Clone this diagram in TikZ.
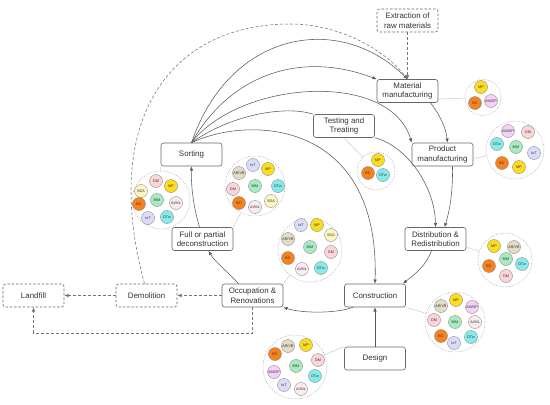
\documentclass[tikz,border=0pt]{standalone}
\usepackage{fontspec}
\setmainfont{Liberation Sans}
\usetikzlibrary{arrows.meta}
\definecolor{cMP}{HTML}{FBDC1E}
\definecolor{cBC}{HTML}{F5821F}
\definecolor{cAMDP}{HTML}{F3D2F5}
\definecolor{cDM}{HTML}{FAD4D6}
\definecolor{cDTw}{HTML}{85EBEA}
\definecolor{cBIM}{HTML}{A7EBC0}
\definecolor{cIoT}{HTML}{DCDCFA}
\definecolor{cAIML}{HTML}{FCEBEE}
\definecolor{cSDA}{HTML}{FAF5C3}
\definecolor{cARVR}{HTML}{E2DCC5}
\newcommand{\bb}[5]{\node[bub,fill=#4] (#1) at (#2,#3) {#5};}
\begin{document}
\begin{tikzpicture}[x=1pt,y=-1pt,
  box/.style={draw=black!60, rounded corners=2.5pt, fill=white, minimum width=61pt, minimum height=23pt, align=center, inner sep=1pt, font=\fontsize{7.9}{9.4}\selectfont, text=black!80, line width=0.6pt},
  dbox/.style={box, dash pattern=on 2.5pt off 1.8pt},
  arr/.style={draw=black!65, line width=0.55pt, -{Latex[length=4.2pt,width=3.4pt]}},
  plain/.style={draw=black!65, line width=0.55pt},
  darr/.style={arr, draw=black!55, dash pattern=on 3pt off 2pt},
  clus/.style={circle, draw=black!30, dash pattern=on 1.2pt off 1.2pt, line width=0.5pt, inner sep=0},
  link/.style={draw=black!22, line width=0.45pt},
  bub/.style={circle, draw=black!45, line width=0.4pt, minimum size=13pt, inner sep=0, font=\fontsize{3.7}{4}\selectfont, text=black!80}
]
\useasboundingbox (0,0) rectangle (550,405);

% boxes
\node[dbox] (ext) at (407.5,20.5) {Extraction of\\raw materials};
\node[box] (mat) at (407.5,91) {Material\\manufacturing};
\node[box] (test) at (344,126) {Testing and\\Treating};
\node[box] (prod) at (442.5,154.5) {Product\\manufacturing};
\node[box] (sort) at (191.5,154.5) {Sorting};
\node[box] (dist) at (435.5,239) {Distribution \&\\Redistribution};
\node[box] (full) at (202.5,239) {Full or partial\\deconstruction};
\node[box] (cons) at (375,295.5) {Construction};
\node[box] (occ) at (252.5,295.5) {Occupation \&\\Renovations};
\node[dbox] (dem) at (146.5,295.5) {Demolition};
\node[dbox] (land) at (33.5,295.5) {Landfill};
\node[box] (des) at (375,358.5) {Design};

% clusters
\node[clus, minimum size=36pt] (cA) at (483,97.5) {};
\node[clus, minimum size=58pt] (cB) at (515,150) {};
\node[clus, minimum size=54pt] (cC) at (505,260) {};
\node[clus, minimum size=38pt] (cD) at (376,171) {};
\node[clus, minimum size=58pt] (cE) at (161,200) {};
\node[clus, minimum size=60pt] (cF) at (255,186) {};
\node[clus, minimum size=64pt] (cG) at (310,250) {};
\node[clus, minimum size=60pt] (cH) at (455,322) {};
\node[clus, minimum size=64pt] (cI) at (295,367) {};

% cluster links
\draw[link] ([yshift=-8pt]mat.east) -- (cA);
\draw[link] ([yshift=-4pt]prod.east) -- (cB);
\draw[link] ([yshift=-8pt]dist.east) -- (cC);
\draw[link] (test.south) -- (cD);
\draw[link] (sort.south west) -- (cE);
\draw[link] (cF) -- (full.north east);
\draw[link] (occ.north east) -- (cG);
\draw[link] (cons.south east) -- (cH);
\draw[link] (des.north west) -- (cI);

% bubbles A
\bb{a1}{481}{87}{cMP}{MP}
\bb{a2}{475}{103}{cBC}{BC}
\bb{a3}{491}{101}{cAMDP}{AM/DP}
% B
\bb{b1}{508}{131}{cAMDP}{AM/DP}
\bb{b2}{528}{132}{cDM}{DM}
\bb{b3}{497}{144}{cDTw}{DTw}
\bb{b4}{516}{147}{cBIM}{BIM}
\bb{b5}{534}{153}{cIoT}{IoT}
\bb{b6}{502}{163}{cBC}{BC}
\bb{b7}{519}{167}{cMP}{MP}
% C
\bb{c1}{494}{246}{cMP}{MP}
\bb{c2}{514}{247}{cARVR}{AR/VR}
\bb{c3}{506}{259}{cBIM}{BIM}
\bb{c4}{522}{264}{cDTw}{DTw}
\bb{c5}{489}{266}{cBC}{BC}
\bb{c6}{506}{276}{cDM}{DM}
% D
\bb{d1}{378}{160}{cMP}{MP}
\bb{d2}{368}{173}{cBC}{BC}
\bb{d3}{383}{175}{cDTw}{DTw}
% E
\bb{e1}{156}{181}{cDM}{DM}
\bb{e2}{141}{191}{cSDA}{SDA}
\bb{e3}{171}{186}{cMP}{MP}
\bb{e4}{157}{200}{cBIM}{BIM}
\bb{e5}{176}{203}{cAIML}{AI/ML}
\bb{e6}{139}{204}{cBC}{BC}
\bb{e7}{148}{218}{cIoT}{IoT}
\bb{e8}{167}{217}{cDTw}{DTw}
% F
\bb{f1}{253}{165}{cIoT}{IoT}
\bb{f2}{239}{173}{cARVR}{AR/VR}
\bb{f3}{268}{169}{cMP}{MP}
\bb{f4}{233}{189}{cDM}{DM}
\bb{f5}{255}{186}{cBIM}{BIM}
\bb{f6}{278}{186}{cDTw}{DTw}
\bb{f7}{239}{203}{cBC}{BC}
\bb{f8}{271}{201}{cSDA}{SDA}
\bb{f9}{255}{207}{cAIML}{AI/ML}
% G
\bb{g1}{301}{225}{cIoT}{IoT}
\bb{g2}{317}{225}{cMP}{MP}
\bb{g3}{288}{239}{cARVR}{AR/VR}
\bb{g4}{331}{235}{cSDA}{SDA}
\bb{g5}{310}{247}{cBIM}{BIM}
\bb{g6}{331}{252}{cDM}{DM}
\bb{g7}{288}{258}{cBC}{BC}
\bb{g8}{302}{269}{cAIML}{AI/ML}
\bb{g9}{321}{268}{cDTw}{DTw}
% H
\bb{h1}{441}{306}{cARVR}{AR/VR}
\bb{h2}{456}{300}{cMP}{MP}
\bb{h3}{472}{307}{cAMDP}{AM/DP}
\bb{h4}{434}{320}{cDM}{DM}
\bb{h5}{455}{322}{cBIM}{BIM}
\bb{h6}{475}{322}{cAIML}{AI/ML}
\bb{h7}{441}{336}{cBC}{BC}
\bb{h8}{454}{343}{cIoT}{IoT}
\bb{h9}{471}{337}{cDTw}{DTw}
% I
\bb{i1}{288}{346}{cARVR}{AR/VR}
\bb{i2}{306}{345}{cMP}{MP}
\bb{i3}{275}{354}{cBC}{BC}
\bb{i4}{318}{360}{cDM}{DM}
\bb{i5}{274}{372}{cAMDP}{AM/DP}
\bb{i6}{296}{366}{cBIM}{BIM}
\bb{i7}{315}{376}{cDTw}{DTw}
\bb{i8}{284}{385}{cIoT}{IoT}
\bb{i9}{301}{389}{cAIML}{AI/ML}

% solid connectors
\draw[arr] (sort.north) .. controls (230,30) and (340,12) .. (mat.north);
\draw[arr] (sort.north) .. controls (230,75) and (300,50) .. (mat.north west);
\draw[arr] (sort.north) .. controls (240,80) and (390,70) .. (prod.north west);
\draw[plain] (sort.north) .. controls (230,115) and (285,105) .. (test.north west);
\draw[arr] (sort.north) .. controls (250,115) and (380,120) .. (cons.north);
\draw[arr] (test.south east) .. controls (405,145) and (435,185) .. (dist.north);
\draw[arr] ([xshift=23pt]mat.south) .. controls (440,115) and (446,128) .. ([xshift=5pt]prod.north);
\draw[arr] ([xshift=10pt]prod.south) .. controls (453,195) and (449,213) .. ([xshift=9pt]dist.north);
\draw[arr] ([xshift=-4pt]dist.south) .. controls (425,268) and (412,276) .. ([xshift=28pt]cons.north);
\draw[arr] ([xshift=-22pt]cons.south) .. controls (335,314) and (300,313) .. (occ.south east);
\draw[arr] ([xshift=-14pt]occ.north) .. controls (228,272) and (215,262) .. ([xshift=6pt]full.south);
\draw[arr] ([xshift=-3pt]full.north) .. controls (193,205) and (191,185) .. (sort.south);
\draw[arr] (des.north) -- (cons.south);

% dashed connectors
\draw[darr] (ext.south) -- (mat.north);
\draw[darr] (occ.west) -- (dem.east);
\draw[darr] (dem.west) -- (land.east);
\draw[darr] (occ.south) -- ++(0,26) -| (land.south);
\draw[darr] ([xshift=-2pt]dem.north) .. controls (100,120) and (170,24) .. (290,24) .. controls (340,24) and (385,50) .. (mat.north);
\end{tikzpicture}
\end{document}
